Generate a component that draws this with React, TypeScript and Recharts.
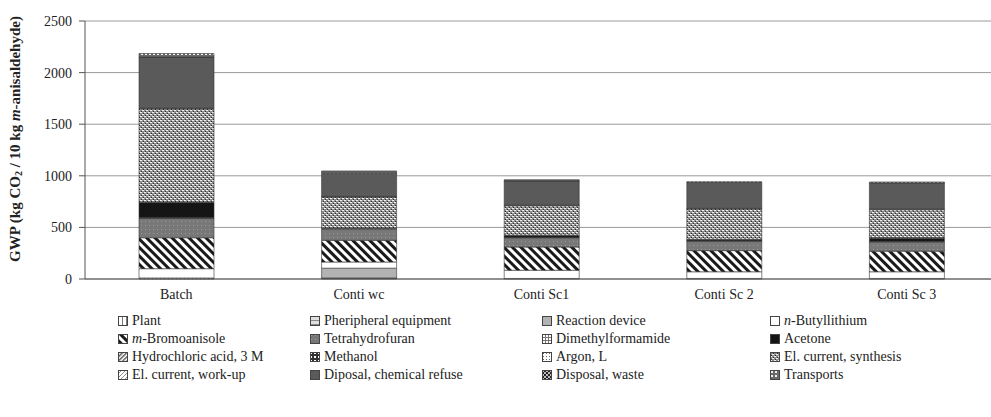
import { BarChart, Bar, XAxis, YAxis, CartesianGrid, Label } from 'recharts'

const categories = ['Batch', 'Conti wc', 'Conti Sc1', 'Conti Sc 2', 'Conti Sc 3']

// GWP contributions per category (kg CO2 / 10 kg m-anisaldehyde), bottom to top
const plant = [10, 5, 5, 5, 5]
const peripheral = [0, 5, 0, 0, 0]
const reactionDevice = [0, 95, 0, 0, 0]
const butyllithium = [90, 60, 80, 65, 65]
const bromoanisole = [300, 210, 225, 205, 200]
const thf = [190, 110, 90, 90, 90]
const dmf = [5, 5, 5, 5, 5]
const acetone = [145, 0, 15, 10, 30]
const hcl = [0, 0, 0, 0, 0]
const methanol = [0, 0, 0, 0, 0]
const argon = [5, 5, 5, 5, 5]
const elSynthesis = [905, 300, 285, 295, 272]
const elWorkup = [5, 5, 5, 5, 5]
const chemRefuse = [495, 225, 235, 250, 255]
const wasteDisposal = [0, 0, 0, 0, 0]
const transports = [35, 22, 12, 8, 8]

const yTicks = [0, 500, 1000, 1500, 2000, 2500]

const seriesList = [
  { key: 'plant', name: 'Plant', values: plant, fill: 'url(#pPlant)' },
  { key: 'peripheral', name: 'Pheripheral equipment', values: peripheral, fill: 'url(#pPeriph)' },
  { key: 'reaction', name: 'Reaction device', values: reactionDevice, fill: '#b3b3b3' },
  { key: 'nbuli', name: 'n-Butyllithium', italic: 'n', values: butyllithium, fill: '#ffffff' },
  { key: 'bromo', name: 'm-Bromoanisole', italic: 'm', values: bromoanisole, fill: 'url(#pBromo)' },
  { key: 'thf', name: 'Tetrahydrofuran', values: thf, fill: 'url(#pThf)' },
  { key: 'dmf', name: 'Dimethylformamide', values: dmf, fill: 'url(#pDmf)' },
  { key: 'acetone', name: 'Acetone', values: acetone, fill: '#151515' },
  { key: 'hcl', name: 'Hydrochloric acid, 3 M', values: hcl, fill: 'url(#pHcl)' },
  { key: 'methanol', name: 'Methanol', values: methanol, fill: 'url(#pMethanol)' },
  { key: 'argon', name: 'Argon, L', values: argon, fill: 'url(#pArgon)' },
  { key: 'elSyn', name: 'El. current, synthesis', values: elSynthesis, fill: 'url(#pElSyn)' },
  { key: 'elWork', name: 'El. current, work-up', values: elWorkup, fill: 'url(#pElWork)' },
  { key: 'refuse', name: 'Diposal, chemical refuse', values: chemRefuse, fill: '#5a5a5a' },
  { key: 'waste', name: 'Disposal, waste', values: wasteDisposal, fill: 'url(#pWaste)' },
  { key: 'transports', name: 'Transports', values: transports, fill: 'url(#pTransports)' },
]

const chartData = categories.map((cat, i) => {
  const row: Record<string, string | number> = { name: cat }
  seriesList.forEach((s) => {
    row[s.key] = s.values[i]
  })
  return row
})

const font = "'Liberation Serif', 'Times New Roman', Tinos, 'Nimbus Roman', Times, 'DejaVu Serif', serif"

function Patterns() {
  return (
    <svg width={0} height={0} style={{ position: 'absolute' }}>
      <defs>
        <pattern id="pPlant" width={4} height={4} patternUnits="userSpaceOnUse">
          <rect width={4} height={4} fill="#fff" />
          <rect width={1} height={4} fill="#777" />
        </pattern>
        <pattern id="pPeriph" width={4} height={4} patternUnits="userSpaceOnUse">
          <rect width={4} height={4} fill="#e0e0e0" />
          <rect width={4} height={1} fill="#888" />
        </pattern>
        <pattern id="pBromo" width={6} height={6} patternUnits="userSpaceOnUse" patternTransform="rotate(-45)">
          <rect width={6} height={6} fill="#fff" />
          <rect width={3} height={6} fill="#1a1a1a" />
        </pattern>
        <pattern id="pThf" width={4} height={4} patternUnits="userSpaceOnUse">
          <rect width={4} height={4} fill="#787878" />
          <rect x={1} y={1} width={1} height={1} fill="#999" />
        </pattern>
        <pattern id="pDmf" width={3} height={3} patternUnits="userSpaceOnUse">
          <rect width={3} height={3} fill="#fff" />
          <rect width={3} height={1} fill="#777" />
          <rect width={1} height={3} fill="#777" />
        </pattern>
        <pattern id="pHcl" width={3} height={3} patternUnits="userSpaceOnUse" patternTransform="rotate(45)">
          <rect width={3} height={3} fill="#fff" />
          <rect width={1.4} height={3} fill="#555" />
        </pattern>
        <pattern id="pMethanol" width={4} height={4} patternUnits="userSpaceOnUse">
          <rect width={4} height={4} fill="#333" />
          <rect width={2} height={2} fill="#fff" />
        </pattern>
        <pattern id="pArgon" width={3} height={3} patternUnits="userSpaceOnUse">
          <rect width={3} height={3} fill="#fff" />
          <rect x={1} y={1} width={1} height={1} fill="#666" />
        </pattern>
        <pattern id="pElSyn" width={4} height={4} patternUnits="userSpaceOnUse">
          <rect width={4} height={4} fill="#8e8e8e" />
          <rect x={0} y={0} width={2} height={1} fill="#f2f2f2" />
          <rect x={2} y={2} width={2} height={1} fill="#f2f2f2" />
          <rect x={3} y={1} width={1} height={1} fill="#2a2a2a" />
          <rect x={1} y={3} width={1} height={1} fill="#2a2a2a" />
        </pattern>
        <pattern id="pElWork" width={4} height={4} patternUnits="userSpaceOnUse">
          <rect width={4} height={4} fill="#fff" />
          <path d="M0 4 L4 0" stroke="#777" strokeWidth={0.8} />
        </pattern>
        <pattern id="pWaste" width={4} height={4} patternUnits="userSpaceOnUse">
          <rect width={4} height={4} fill="#222" />
          <rect width={2} height={2} fill="#bbb" />
          <rect x={2} y={2} width={2} height={2} fill="#bbb" />
        </pattern>
        <pattern id="pTransports" width={4} height={4} patternUnits="userSpaceOnUse">
          <rect width={4} height={4} fill="#6a6a6a" />
          <rect x={1} y={1} width={2} height={2} fill="#eee" />
        </pattern>
      </defs>
    </svg>
  )
}

function YLabel() {
  const cx = 15
  const cy = 139
  return (
    <text
      x={cx}
      y={cy}
      transform={`rotate(-90, ${cx}, ${cy})`}
      textAnchor="middle"
      dominantBaseline="central"
      fontFamily={font}
      fontWeight="bold"
      fontSize={15}
      fill="#222"
    >
      <tspan>GWP (kg CO</tspan>
      <tspan fontSize={10} dy={3}>2</tspan>
      <tspan dy={-3}> / 10 kg </tspan>
      <tspan fontStyle="italic">m</tspan>
      <tspan>-anisaldehyde)</tspan>
    </text>
  )
}

function LegendName({ name, italic }: { name: string; italic?: string }) {
  if (italic && name.startsWith(italic + '-')) {
    return (
      <span>
        <i>{italic}</i>
        {name.slice(italic.length)}
      </span>
    )
  }
  return <span>{name}</span>
}

const legendCols = [118, 310, 542, 770]

export default function App() {
  return (
    <div style={{ position: 'relative', width: 991, height: 417, overflow: 'hidden', background: '#fff' }}>
      <style>{'body{margin:0}'}</style>
      <Patterns />
      <BarChart
        width={1000}
        height={417}
        data={chartData}
        margin={{ top: 21, right: 2, bottom: 108, left: 0 }}
        barCategoryGap={0}
      >
        <CartesianGrid horizontal vertical={false} stroke="#9a9a9a" />
        <XAxis
          dataKey="name"
          height={30}
          tickLine={false}
          tickSize={0}
          tickMargin={10}
          axisLine={{ stroke: '#555' }}
          tick={{ fill: '#222', fontSize: 14, fontFamily: font }}
          interval={0}
        />
        <YAxis
          width={85}
          domain={[0, 2500]}
          ticks={yTicks}
          tickSize={6}
          tickMargin={7}
          axisLine={{ stroke: '#555' }}
          tickLine={{ stroke: '#555' }}
          tick={{ fill: '#222', fontSize: 14, fontFamily: font }}
        >
          <Label content={YLabel} />
        </YAxis>
        {seriesList.map((s) => (
          <Bar
            key={s.key}
            dataKey={s.key}
            stackId="gwp"
            fill={s.fill}
            stroke="#333"
            strokeWidth={0.6}
            barSize={75}
            isAnimationActive={false}
          />
        ))}
      </BarChart>
      {seriesList.map((s, i) => (
        <div
          key={s.key}
          style={{
            position: 'absolute',
            left: legendCols[i % 4],
            top: 313 + Math.floor(i / 4) * 18,
            height: 16,
            lineHeight: '16px',
            display: 'flex',
            alignItems: 'center',
            fontFamily: font,
            fontSize: 14,
            color: '#222',
            whiteSpace: 'nowrap',
          }}
        >
          <svg width={10} height={10} style={{ marginRight: 4 }}>
            <rect x={0.5} y={0.5} width={9} height={9} fill={s.fill} stroke="#444" strokeWidth={1} />
          </svg>
          <LegendName name={s.name} italic={s.italic} />
        </div>
      ))}
    </div>
  )
}
